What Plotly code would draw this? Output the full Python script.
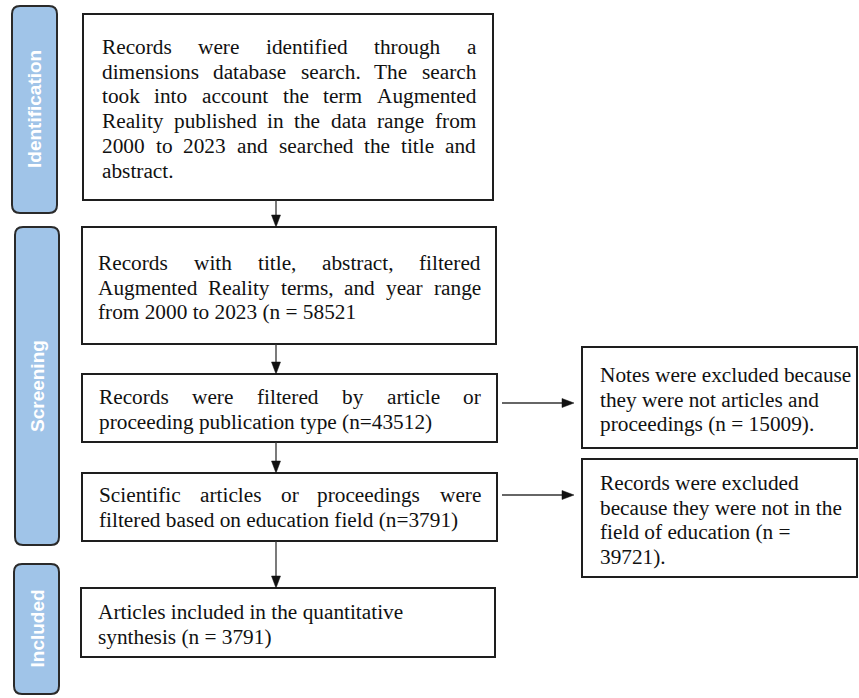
import plotly.graph_objects as go

# ---------------- data (texts) ----------------
stage_labels = ["Identification", "Screening", "Included"]

main_box_lines = [
    ["Records were identified through a",
     "dimensions database search. The search",
     "took into account the term Augmented",
     "Reality published in the data range from",
     "2000 to 2023 and searched the title and",
     "abstract."],
    ["Records with title, abstract, filtered",
     "Augmented Reality terms, and year range",
     "from 2000 to 2023 (n = 58521"],
    ["Records were filtered by article or",
     "proceeding publication type (n=43512)"],
    ["Scientific articles or proceedings were",
     "filtered based on education field (n=3791)"],
    ["Articles included in the quantitative",
     "synthesis (n = 3791)"],
]
main_justified = [5, 2, 1, 1, 0]   # number of justified lines per box

excluded_lines = [
    ["Notes were excluded because",
     "they were not articles and",
     "proceedings (n = 15009)."],
    ["Records were excluded",
     "because they were not in the",
     "field of education (n =",
     "39721)."],
]

# ---------------- layout constants ----------------
W, H = 859, 698
STAGE_BOX = [(12, 57, 6, 213), (15, 59, 227, 545), (14, 59, 564, 694)]
MAIN_BOX = [(83, 493, 14, 200), (82, 496, 227, 344), (82, 497, 374, 442),
            (82, 497, 473, 541), (81, 495, 588, 657)]
MAIN_TEXT_X = [(101, 475), (97, 480), (98, 480), (98, 480), (97, 480)]
MAIN_FIRST_Y = [47, 263, 397, 495, 612]
EXCL_BOX = [(582, 857, 347, 448), (582, 857, 459, 577)]
EXCL_TEXT_X = 599
EXCL_FIRST_Y = [375, 483]
EXCL_ARROW_Y = [403, 495]
EXCL_ARROW_X = (502, 574)
V_ARROW_X = 276
LINE_H = 24.7
FS = 21.3
SERIF = "Liberation Serif"
BOX_LINE = "#1e1e1e"
STAGE_FILL = "#a0c4e8"
STAGE_LINE = "#2a2a2a"

# Times metrics (1/1000 em)
TW = {' ': 250, '!': 333, '(': 333, ')': 333, ',': 250, '-': 333, '.': 250,
      '=': 564, ':': 278, ';': 278}
for d in "0123456789":
    TW[d] = 500
TW.update(dict(zip("ABCDEFGHIJKLMNOPQRSTUVWXYZ",
                   [722, 667, 667, 722, 611, 556, 722, 722, 333, 389, 722, 611, 889,
                    722, 722, 556, 722, 667, 556, 611, 722, 722, 944, 722, 722, 611])))
TW.update(dict(zip("abcdefghijklmnopqrstuvwxyz",
                   [444, 500, 444, 500, 444, 333, 500, 500, 278, 278, 500, 278, 778,
                    500, 500, 500, 500, 333, 389, 278, 500, 500, 722, 500, 500, 444])))


def text_width(s):
    return sum(TW.get(c, 500) for c in s) * FS / 1000.0


fig = go.Figure()
shapes = []
annotations = []


def rrect(x0, x1, y0, y1, r):
    return (f"M{x0+r},{y0} L{x1-r},{y0} Q{x1},{y0} {x1},{y0+r} "
            f"L{x1},{y1-r} Q{x1},{y1} {x1-r},{y1} L{x0+r},{y1} "
            f"Q{x0},{y1} {x0},{y1-r} L{x0},{y0+r} Q{x0},{y0} {x0+r},{y0} Z")


def add_text(x, y, s, anchor="left"):
    annotations.append(dict(x=x, y=y, xref="x", yref="y", text=s, showarrow=False,
                            xanchor=anchor, yanchor="middle", borderpad=0,
                            font=dict(family=SERIF, size=FS, color="#111111")))


# stage bars
for (x0, x1, y0, y1), lab in zip(STAGE_BOX, stage_labels):
    shapes.append(dict(type="path", path=rrect(x0, x1, y0, y1, 8), xref="x", yref="y",
                       fillcolor=STAGE_FILL, line=dict(color=STAGE_LINE, width=2)))
    annotations.append(dict(x=(x0 + x1) / 2, y=(y0 + y1) / 2, xref="x", yref="y",
                            text=lab, showarrow=False, textangle=-90,
                            font=dict(family="Liberation Sans", size=19, color="white",
                                      weight=700)))

# main boxes
for i, ((x0, x1, y0, y1), lines) in enumerate(zip(MAIN_BOX, main_box_lines)):
    shapes.append(dict(type="rect", x0=x0, x1=x1, y0=y0, y1=y1, xref="x", yref="y",
                       line=dict(color=BOX_LINE, width=2), fillcolor="white"))
    left, right = MAIN_TEXT_X[i]
    for j, line in enumerate(lines):
        y = MAIN_FIRST_Y[i] + j * LINE_H
        if j < main_justified[i]:
            words = line.split(" ")
            widths = [text_width(w) for w in words]
            gap = (right - left - sum(widths)) / (len(words) - 1)
            x = left
            for w, wd in zip(words, widths):
                add_text(x, y, w)
                x += wd + gap
        else:
            add_text(left, y, line)

# vertical arrows between main boxes
for a, b in zip(MAIN_BOX[:-1], MAIN_BOX[1:]):
    ys, ye = a[3], b[2]
    shapes.append(dict(type="line", x0=V_ARROW_X, x1=V_ARROW_X, y0=ys, y1=ye - 10,
                       xref="x", yref="y", line=dict(color="#333333", width=1.3)))
    shapes.append(dict(type="path", xref="x", yref="y",
                       path=f"M{V_ARROW_X-4.5},{ye-12} L{V_ARROW_X+4.5},{ye-12} L{V_ARROW_X},{ye} Z",
                       fillcolor="#111111", line=dict(color="#111111", width=0.5)))

# excluded boxes + horizontal arrows
for k, ((x0, x1, y0, y1), lines) in enumerate(zip(EXCL_BOX, excluded_lines)):
    shapes.append(dict(type="rect", x0=x0, x1=x1, y0=y0, y1=y1, xref="x", yref="y",
                       line=dict(color=BOX_LINE, width=2), fillcolor="white"))
    for j, line in enumerate(lines):
        add_text(EXCL_TEXT_X, EXCL_FIRST_Y[k] + j * LINE_H, line)
    ay = EXCL_ARROW_Y[k]
    xs, xe = EXCL_ARROW_X
    shapes.append(dict(type="line", x0=xs, x1=xe - 10, y0=ay, y1=ay, xref="x", yref="y",
                       line=dict(color="#333333", width=1.3)))
    shapes.append(dict(type="path", xref="x", yref="y",
                       path=f"M{xe-12},{ay-4.5} L{xe-12},{ay+4.5} L{xe},{ay} Z",
                       fillcolor="#111111", line=dict(color="#111111", width=0.5)))

fig.update_layout(
    width=W, height=H, margin=dict(l=0, r=0, t=0, b=0),
    paper_bgcolor="white", plot_bgcolor="white", showlegend=False,
    xaxis=dict(range=[0, W], visible=False, fixedrange=True),
    yaxis=dict(range=[H, 0], visible=False, fixedrange=True),
    shapes=shapes, annotations=annotations,
)
fig.write_html("out.html", config={"displayModeBar": False},
               post_script="document.body.style.margin='0';document.body.style.overflow='hidden';")
